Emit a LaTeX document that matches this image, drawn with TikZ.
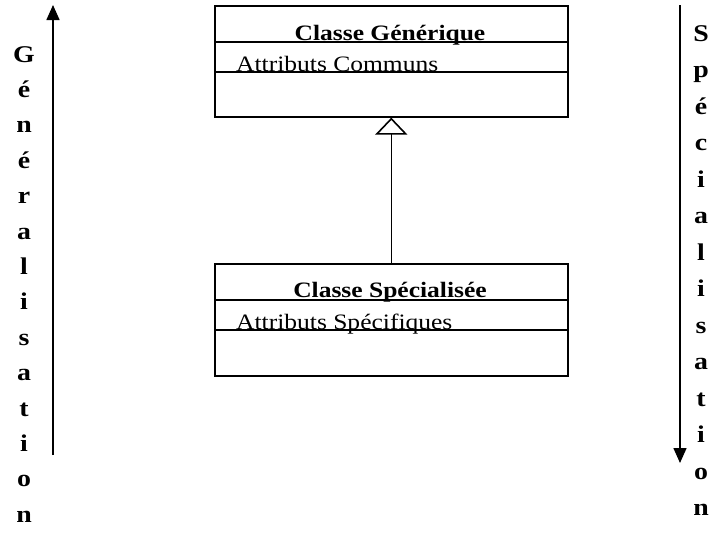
\documentclass[tikz,border=0pt]{standalone}
\usepackage{fontspec}
\setmainfont{Liberation Serif}[FakeStretch=1.16]
\usetikzlibrary{arrows.meta}
\tikzset{
  classbox/.style={draw, line width=1.6pt, minimum width=353pt, inner sep=0pt, anchor=north west},
  sep/.style={line width=1.6pt},
  titletext/.style={anchor=base, inner sep=0pt, font=\bfseries\fontsize{22}{26}\selectfont},
  attrtext/.style={anchor=base west, inner sep=0pt, font=\fontsize{22}{26}\selectfont},
  letter/.style={anchor=base, inner sep=0pt, font=\bfseries\fontsize{24}{28}\selectfont},
  sidearrow/.style={line width=1.5pt, -{Triangle[length=15pt, width=13pt]}},
  inherit/.style={line width=1.6pt, -{Triangle[open, length=17pt, width=32pt, line width=1.6pt]}}
}
\begin{document}
\begin{tikzpicture}[x=1pt, y=-1pt]
\useasboundingbox (0,0) rectangle (720,555);
% generic class
\node[classbox, minimum height=111pt] (gen) at (214,5) {};
\draw[sep] (214,42) -- (567,42);
\draw[sep] (214,72) -- (567,72);
\node[titletext] (gent) at (390,40) {Classe Générique};
\node[attrtext] (gena) at (236,71) {Attributs Communs};
% specialised class
\node[classbox, minimum height=112pt] (spec) at (214,263) {};
\draw[sep] (214,300) -- (567,300);
\draw[sep] (214,330) -- (567,330);
\node[titletext] (spect) at (390,297) {Classe Spécialisée};
\node[attrtext] (speca) at (236,329) {Attributs Spécifiques};
% inheritance
\draw[inherit] (spec.north) -- (gen.south);
% side arrows
\coordinate (gbot) at (53,455);
\coordinate (gtop) at (53,5);
\draw[sidearrow] (gbot) -- (gtop);
\coordinate (stop) at (680,5);
\coordinate (sbot) at (680,463);
\draw[sidearrow] (stop) -- (sbot);
\foreach \c [count=\i] in {G,é,n,é,r,a,l,i,s,a,t,i,o,n}
  \node[letter] (g\i) at (24,{62+35.4*(\i-1)}) {\c};
\foreach \c [count=\i] in {S,p,é,c,i,a,l,i,s,a,t,i,o,n}
  \node[letter] (s\i) at (701,{41+36.5*(\i-1)}) {\c};
\end{tikzpicture}
\end{document}
